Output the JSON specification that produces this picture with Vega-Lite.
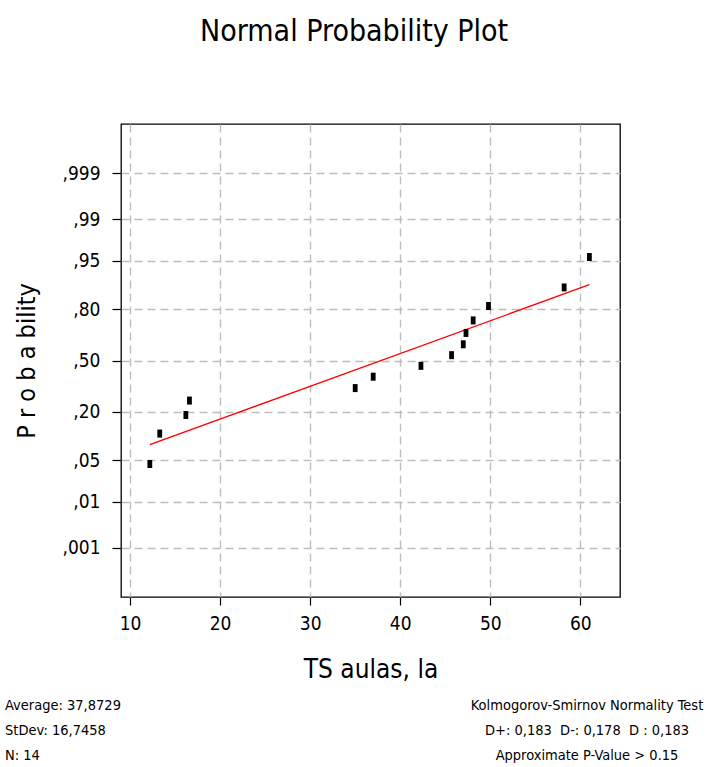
{
  "$schema": "https://vega.github.io/schema/vega-lite/v6.json",
  "background": "white",
  "padding": {"left": 5, "top": 17, "right": 5, "bottom": 0},
  "config": {"font": "DejaVu Sans Condensed", "text": {"font": "DejaVu Sans Condensed"}},
  "title": {"text": "Normal Probability Plot", "font": "DejaVu Sans Condensed", "fontSize": 30, "fontWeight": "normal", "color": "#000", "anchor": "middle", "frame": "bounds", "offset": 76},
  "spacing": 15,
  "datasets": {
    "points": [
      {"x": 12.2, "z": -1.707},
      {"x": 13.3, "z": -1.205},
      {"x": 16.2, "z": -0.899},
      {"x": 16.6, "z": -0.661},
      {"x": 35.0, "z": -0.455},
      {"x": 37.0, "z": -0.267},
      {"x": 42.3, "z": -0.088},
      {"x": 45.7, "z": 0.088},
      {"x": 47.0, "z": 0.267},
      {"x": 47.3, "z": 0.455},
      {"x": 48.1, "z": 0.661},
      {"x": 49.8, "z": 0.899},
      {"x": 58.2, "z": 1.205},
      {"x": 61.0, "z": 1.707}
    ],
    "fit": [
      {"x": 12.2, "z": -1.388},
      {"x": 61.0, "z": 1.25}
    ],
    "footer": [
      {"side": "left", "line": 0, "text": "Average: 37,8729"},
      {"side": "left", "line": 1, "text": "StDev: 16,7458"},
      {"side": "left", "line": 2, "text": "N: 14"},
      {"side": "right", "line": 0, "text": "Kolmogorov-Smirnov Normality Test"},
      {"side": "right", "line": 1, "text": "D+: 0,183\u00a0\u00a0D-: 0,178\u00a0\u00a0D : 0,183"},
      {"side": "right", "line": 2, "text": "Approximate P-Value > 0.15"}
    ]
  },
  "vconcat": [
    {
      "width": 499,
      "height": 473,
      "view": {"stroke": "#000", "strokeWidth": 1.3},
      "encoding": {
        "x": {
          "field": "x", "type": "quantitative",
          "scale": {"domain": [9, 64.4], "nice": false, "zero": false},
          "axis": {
            "title": "TS aulas, la", "values": [10, 20, 30, 40, 50, 60],
            "grid": true, "gridColor": "#bdbdbd", "gridDash": [8, 5], "gridWidth": 1.4, "gridOpacity": 1,
            "domain": false, "tickColor": "#000", "tickSize": 8, "tickWidth": 1.2,
            "labelFont": "DejaVu Sans Condensed", "labelFontSize": 19, "labelColor": "#000", "labelPadding": 9,
            "titleFont": "DejaVu Sans Condensed", "titleFontSize": 26, "titleFontWeight": "normal", "titleColor": "#000", "titlePadding": 23
          }
        },
        "y": {
          "field": "z", "type": "quantitative",
          "scale": {"domain": [-3.9, 3.9], "nice": false, "zero": false},
          "axis": {
            "title": "P r o b a bility",
            "values": [-3.0902, -2.3263, -1.6449, -0.8416, 0, 0.8416, 1.6449, 2.3263, 3.0902],
            "labelExpr": "datum.value < -3 ? ',001' : datum.value < -2 ? ',01' : datum.value < -1.5 ? ',05' : datum.value < -0.5 ? ',20' : datum.value < 0.5 ? ',50' : datum.value < 1 ? ',80' : datum.value < 2 ? ',95' : datum.value < 3 ? ',99' : ',999'",
            "grid": true, "gridColor": "#bdbdbd", "gridDash": [8, 5], "gridWidth": 1.4, "gridOpacity": 1,
            "domain": false, "tickColor": "#000", "tickSize": 9, "tickWidth": 1.2,
            "labelFont": "DejaVu Sans Condensed", "labelFontSize": 19, "labelColor": "#000", "labelPadding": 12,
            "titleFont": "DejaVu Sans Condensed", "titleFontSize": 25, "titleFontWeight": "normal", "titleColor": "#000", "titlePadding": 22
          }
        }
      },
      "layer": [
        {
          "data": {"name": "fit"},
          "mark": {"type": "line", "color": "#ff0000", "strokeWidth": 1.3},
          "encoding": {}
        },
        {
          "data": {"name": "points"},
          "mark": {"type": "point", "shape": "M-0.6,-1H0.6V1H-0.6Z", "filled": true, "color": "#000", "opacity": 1, "size": 64}
        }
      ]
    },
    {
      "width": 499,
      "height": 50,
      "view": {"stroke": null},
      "data": {"name": "footer"},
      "encoding": {
        "x": {"field": "side", "type": "nominal", "scale": {"type": "point", "domain": ["left", "right"], "range": [-116, 466], "padding": 0}, "axis": null},
        "y": {"field": "line", "type": "ordinal", "scale": {"type": "point", "padding": 0}, "axis": null},
        "text": {"field": "text"}
      },
      "layer": [
        {
          "transform": [{"filter": "datum.side === 'left'"}],
          "mark": {"type": "text", "align": "left", "baseline": "middle", "font": "DejaVu Sans Condensed", "fontSize": 14.5, "color": "#000"}
        },
        {
          "transform": [{"filter": "datum.side === 'right'"}],
          "mark": {"type": "text", "align": "center", "baseline": "middle", "font": "DejaVu Sans Condensed", "fontSize": 14.5, "color": "#000"}
        }
      ]
    }
  ]
}
